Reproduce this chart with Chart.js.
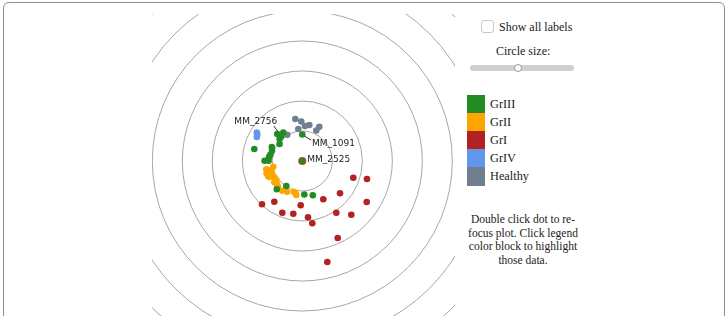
<!DOCTYPE html>
<html>
<head>
<meta charset="utf-8">
<script src="https://cdn.jsdelivr.net/npm/chart.js@4.4.1/dist/chart.umd.min.js"></script>
<style>
  body { margin: 0; background: #fff; width: 727px; height: 316px; overflow: hidden; position: relative; }
  .frame { position: absolute; left: 3px; top: 2px; width: 720px; height: 340px; border: 1.5px solid #8e8e8e; border-radius: 6px; }
  #plot { position: absolute; left: 152px; top: 14px; }
  .panel { position: absolute; font-family: "Liberation Serif", serif; color: #222; }
  .chk { position: absolute; left: 481px; top: 20px; width: 11px; height: 11px; border: 1px solid #c8c8c8; border-radius: 3px; background: #fff; }
  .track { position: absolute; left: 470px; top: 65px; width: 104px; height: 6px; border-radius: 3px; background: #cfcfcf; }
  .thumb { position: absolute; left: 514px; top: 64px; width: 6px; height: 6px; border-radius: 50%; background: #fff; border: 1px solid #9a9a9a; }
  .leg { position: absolute; left: 467px; width: 18px; height: 18.3px; }
  .legtxt { position: absolute; left: 490px; font-size: 12.3px; line-height: 18px; font-family: "Liberation Serif", serif; color: #222; }
  .help { position: absolute; left: 462px; top: 213px; width: 122px; text-align: center; font-size: 11.5px; line-height: 13.5px; font-family: "Liberation Serif", serif; color: #222; }
</style>
</head>
<body>
<div class="frame"></div>
<canvas id="plot" width="303" height="302"></canvas>

<div class="chk"></div>
<div class="panel" style="left:499px; top:19px; font-size:12px; line-height:16px;">Show all labels</div>
<div class="panel" style="left:496px; top:43px; font-size:12px; line-height:16px;">Circle size:</div>
<div class="track"></div>
<div class="thumb"></div>
<div id="legend"></div>
<div class="help">Double click dot to re-focus plot. Click legend color block to highlight those data.</div>

<script>
// group names and colours (legend order)
const groups = ['GrIII', 'GrII', 'GrI', 'GrIV', 'Healthy'];
const colors = ['#228b22', '#ffa500', '#b22222', '#6495ed', '#708090'];

// ring radii (plot units)
const radii = [30, 60, 90, 120, 150, 180, 210, 240];

// points per group, [x, y] in plot units around the focus sample
const grIII = [[-25, 27], [-19, 28.5], [-21, 24.5], [-22.7, 22], [-22.7, 17], [-30.5, 14], [-30.3, 10.3],
  [-32, 6.3], [-33.3, 4], [-37.7, 0.3], [-33.7, 0.3], [-48, 12], [0, 26.5], [0, 0],
  [-16, -25], [-25.5, -28.3], [2, -33.5], [10.5, -34.3]];
const grII = [[-29, -5.7], [-35, -9], [-35.7, -12.3], [-34.3, -14.7], [-30, -14], [-27.7, -16.7],
  [-28, -21.3], [-25.3, -23.3], [-24.3, -25.7], [-20, -29.7], [-15, -30.7], [-8.3, -30.7], [-6, -34],
  [-36, -8.3], [-31, -9], [-33, -16], [-26, -19], [-7, -32]];
const grI = [[51, -16.7], [64.7, -18], [37.7, -32.3], [21, -38.3], [64.4, -41], [-40.3, -43.3],
  [-28, -40.7], [-1.6, -44.3], [-20, -51.7], [-9, -52.7], [34, -51.7], [49, -53.7], [5.7, -56.3],
  [10, -62.3], [35.4, -77], [25, -101]];
const grIV = [[-45.5, 28.5], [-45, 26.5], [-45.5, 24]];
const healthy = [[-7, 42], [-1, 39.5], [2.7, 35], [7, 36], [-4, 32], [-15, 26.3], [14, 30.5], [17, 34.3]];

// labelled samples: group, index, text offset, leader line offsets
const labels = [
  { name: 'MM_2756', set: 0, idx: 0, tx: 0, ty: -10.5, align: 'right', line: [-3.5, -8, 0.5, -2.5] },
  { name: 'MM_1091', set: 0, idx: 12, tx: 9.7, ty: 11, align: 'left', line: [2.5, 1.8, 8.7, 5.5] },
  { name: 'MM_2525', set: 0, idx: 13, tx: 5, ty: 1, align: 'left', line: null }
];
const focusIdx = 13;

const seriesData = [grIII, grII, grI, grIV, healthy];

// legend blocks
const legendEl = document.getElementById('legend');
groups.forEach((g, i) => {
  const top = 95 + i * 18.1;
  legendEl.insertAdjacentHTML('beforeend',
    `<div class="leg" style="top:${top}px; background:${colors[i]}"></div>` +
    `<div class="legtxt" style="top:${top}px">${g}</div>`);
});

const ringsPlugin = {
  id: 'rings',
  beforeDatasetsDraw(chart) {
    const { ctx, chartArea, scales: { x, y } } = chart;
    const cx = x.getPixelForValue(0);
    const cy = y.getPixelForValue(0);
    ctx.save();
    ctx.beginPath();
    ctx.rect(chartArea.left, chartArea.top, chartArea.right - chartArea.left, chartArea.bottom - chartArea.top);
    ctx.clip();
    ctx.strokeStyle = '#a6a6a6';
    ctx.lineWidth = 1;
    radii.forEach(r => {
      const pr = x.getPixelForValue(r) - cx;
      ctx.beginPath();
      ctx.arc(cx, cy, pr, 0, Math.PI * 2);
      ctx.stroke();
    });
    ctx.restore();
  }
};

const labelPlugin = {
  id: 'sampleLabels',
  afterDatasetsDraw(chart) {
    const { ctx } = chart;
    ctx.save();
    ctx.font = '9px "DejaVu Sans", sans-serif';
    ctx.fillStyle = '#222';
    ctx.strokeStyle = '#333';
    ctx.lineWidth = 1;
    labels.forEach(l => {
      const el = chart.getDatasetMeta(l.set).data[l.idx];
      const px = el.x, py = el.y;
      if (l.line) {
        ctx.beginPath();
        ctx.moveTo(px + l.line[0], py + l.line[1]);
        ctx.lineTo(px + l.line[2], py + l.line[3]);
        ctx.stroke();
      }
      ctx.textAlign = l.align;
      ctx.textBaseline = 'alphabetic';
      ctx.fillText(l.name, px + l.tx, py + l.ty);
    });
    ctx.restore();
  }
};

new Chart(document.getElementById('plot'), {
  type: 'scatter',
  data: {
    datasets: groups.map((g, i) => ({
      label: g,
      data: seriesData[i].map(p => ({ x: p[0], y: p[1] })),
      backgroundColor: colors[i],
      borderColor: i === 0 ? (c => c.dataIndex === focusIdx ? '#a0522d' : colors[0]) : colors[i],
      borderWidth: i === 0 ? (c => c.dataIndex === focusIdx ? 1.5 : 0) : 0,
      pointRadius: 3.3
    }))
  },
  options: {
    responsive: false,
    animation: false,
    devicePixelRatio: 1,
    layout: { padding: 0, autoPadding: false },
    plugins: { legend: { display: false }, tooltip: { enabled: false } },
    scales: {
      x: { type: 'linear', min: -150.3, max: 152.7, display: false },
      y: { type: 'linear', min: -155, max: 147, display: false }
    }
  },
  plugins: [ringsPlugin, labelPlugin]
});
</script>
</body>
</html>
